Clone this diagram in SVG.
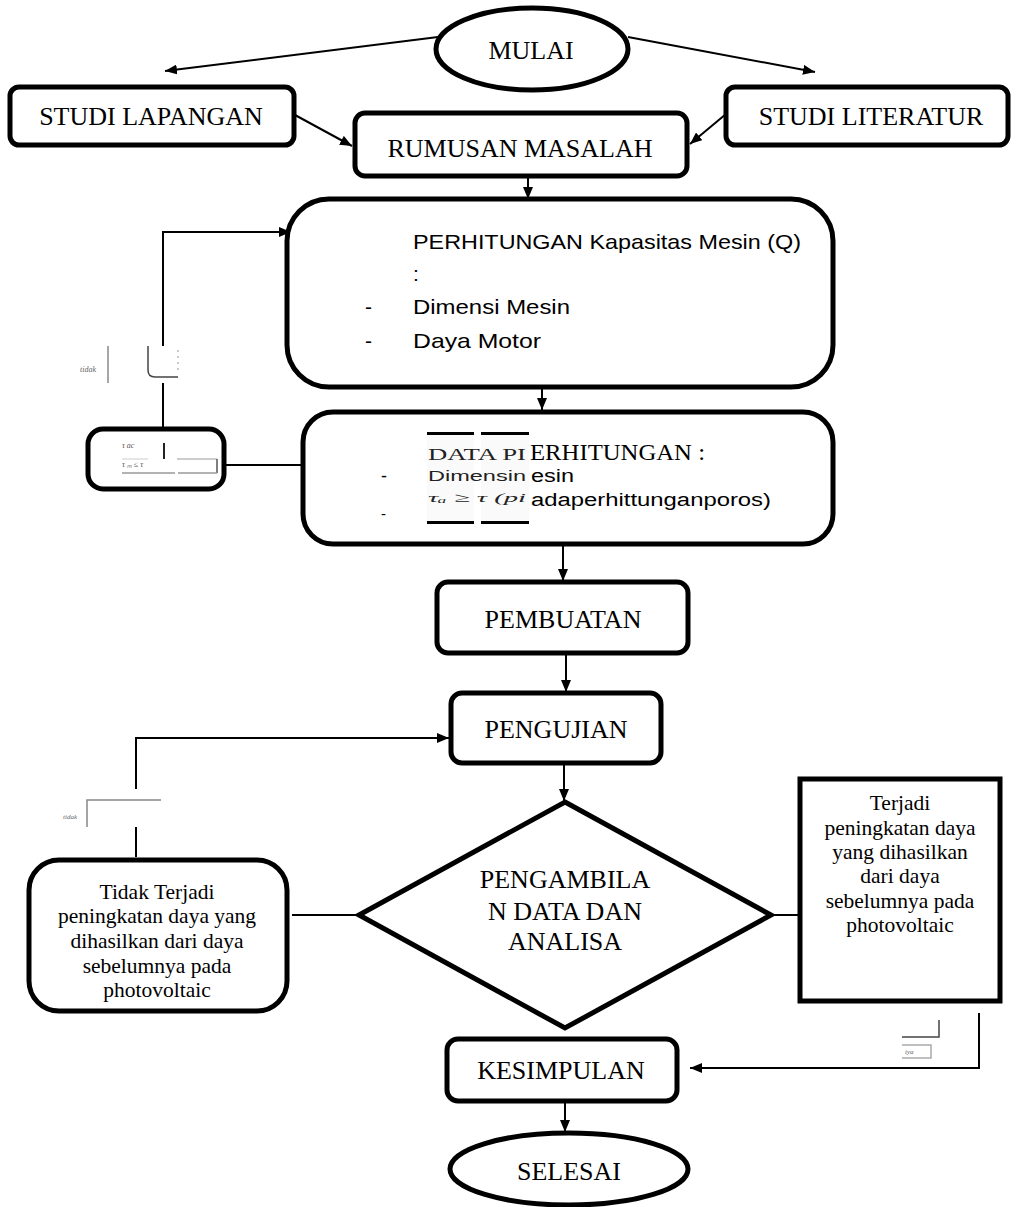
<svg xmlns="http://www.w3.org/2000/svg" width="1016" height="1207" viewBox="0 0 1016 1207">
<style>
  .box{fill:#fff;stroke:#000;stroke-width:5}
  .ln{fill:none;stroke:#000;stroke-width:2}
  .gl{fill:none;stroke:#888;stroke-width:1.5}
  .tt{font-family:"Liberation Serif","Times New Roman",serif;font-size:26px;fill:#000;text-anchor:middle}
  .ts{font-family:"Liberation Serif","Times New Roman",serif;font-size:21.5px;fill:#000;text-anchor:middle}
  .cs{font-family:"Liberation Sans",Arial,sans-serif;font-size:21px;fill:#000}
  .tiny{font-family:"Liberation Serif","Times New Roman",serif;font-size:8px;font-style:italic;fill:#666}
</style>
<defs>
  <marker id="ah" viewBox="0 0 12 10" refX="12" refY="5" markerWidth="12" markerHeight="10" markerUnits="userSpaceOnUse" orient="auto">
    <path d="M0,0 L12,5 L0,10 Z" fill="#000"/>
  </marker>
</defs>
<rect width="1016" height="1207" fill="#fff"/>

<g id="connectors">
  <line class="ln" x1="438" y1="37" x2="165" y2="71" marker-end="url(#ah)"/>
  <line class="ln" x1="628" y1="37" x2="815" y2="72" marker-end="url(#ah)"/>
  <line class="ln" x1="295" y1="115" x2="352" y2="146" marker-end="url(#ah)"/>
  <line class="ln" x1="726" y1="114" x2="690" y2="144" marker-end="url(#ah)"/>
  <line class="ln" x1="528" y1="176" x2="528" y2="199" marker-end="url(#ah)"/>
  <line class="ln" x1="542" y1="387" x2="542" y2="410" marker-end="url(#ah)"/>
  <line class="ln" x1="563" y1="544" x2="563" y2="581" marker-end="url(#ah)"/>
  <line class="ln" x1="566" y1="653" x2="566" y2="692" marker-end="url(#ah)"/>
  <line class="ln" x1="564" y1="763" x2="564" y2="801" marker-end="url(#ah)"/>
  <line class="ln" x1="565" y1="1101" x2="565" y2="1132" marker-end="url(#ah)"/>
  <!-- tidak loop top -->
  <polyline class="ln" points="163,428 163,383"/>
  <polyline class="ln" points="163,346 163,232 291,232" marker-end="url(#ah)"/>
  <line class="ln" x1="225" y1="465" x2="327" y2="465"/>
  <!-- tidak loop bottom -->
  <polyline class="ln" points="136,857 136,827"/>
  <polyline class="ln" points="136,789 136,738 449,738" marker-end="url(#ah)"/>
  <line class="ln" x1="292" y1="915" x2="359" y2="915"/>
  <line class="ln" x1="771" y1="915" x2="798" y2="915"/>
  <path d="M762,910 L771,915 L762,920" fill="none" stroke="#000" stroke-width="1.5"/>
  <!-- iya loop -->
  <polyline class="ln" points="979,1013 979,1068 690,1068" marker-end="url(#ah)"/>
</g>

<g id="n-mulai">
  <ellipse class="box" cx="532" cy="49" rx="96" ry="41"/>
  <text class="tt" x="531" y="59">MULAI</text>
</g>
<g id="n-studi-lapangan">
  <rect class="box" x="10" y="87" width="284" height="58" rx="9"/>
  <text class="tt" x="151" y="125">STUDI LAPANGAN</text>
</g>
<g id="n-studi-literatur">
  <rect class="box" x="726" y="87" width="282" height="58" rx="9"/>
  <text class="tt" x="871" y="125">STUDI LITERATUR</text>
</g>
<g id="n-rumusan">
  <rect class="box" x="355" y="113" width="332" height="63" rx="10"/>
  <text class="tt" x="520" y="157">RUMUSAN MASALAH</text>
</g>
<g id="n-perhitungan">
  <rect class="box" x="287" y="199" width="546" height="188" rx="42"/>
  <text class="cs" x="413" y="249" textLength="388" lengthAdjust="spacingAndGlyphs">PERHITUNGAN Kapasitas Mesin (Q)</text>
  <text class="cs" x="413" y="281">:</text>
  <text class="cs" x="365" y="314">-</text>
  <text class="cs" x="413" y="314" textLength="157" lengthAdjust="spacingAndGlyphs">Dimensi Mesin</text>
  <text class="cs" x="365" y="348">-</text>
  <text class="cs" x="413" y="348" textLength="128" lengthAdjust="spacingAndGlyphs">Daya Motor</text>
</g>
<g id="n-data-perhitungan">
  <rect class="box" x="303" y="412" width="530" height="132" rx="30"/>
  <text class="tt" x="530" y="460" style="text-anchor:start;font-size:24px" textLength="175" lengthAdjust="spacingAndGlyphs">ERHITUNGAN :</text>
  <text class="cs" x="381" y="482" style="font-size:18px">-</text>
  <text class="cs" x="531" y="482" style="font-size:18px" textLength="43" lengthAdjust="spacingAndGlyphs">esin</text>
  <text class="cs" x="381" y="519" style="font-size:15px">-</text>
  <text class="cs" x="531" y="506" style="font-size:18px" textLength="240" lengthAdjust="spacingAndGlyphs">adaperhittunganporos)</text>
  <rect x="427" y="433" width="47" height="91" fill="#fafafa"/>
  <rect x="481" y="433" width="48" height="91" fill="#fafafa"/>
  <rect x="427" y="432" width="47" height="3" fill="#000"/>
  <rect x="481" y="432" width="48" height="3" fill="#000"/>
  <rect x="427" y="521" width="47" height="3" fill="#000"/>
  <rect x="481" y="521" width="48" height="3" fill="#000"/>
  <text x="428" y="460" style="font-family:'Liberation Serif',serif;font-size:17px;fill:#222" textLength="98" lengthAdjust="spacingAndGlyphs">DATA PI</text>
  <text x="428" y="481" style="font-family:'Liberation Sans',sans-serif;font-size:14px;fill:#222" textLength="98" lengthAdjust="spacingAndGlyphs">Dimensin</text>
  <text x="428" y="502" style="font-family:'Liberation Serif',serif;font-size:13px;font-style:italic;fill:#222" textLength="98" lengthAdjust="spacingAndGlyphs">τₐ ≥ τ (pi</text>
</g>
<g id="n-cek">
  <rect class="box" x="88" y="429" width="136" height="60" rx="15"/>
  <text x="122" y="448" style="font-family:'Liberation Serif',serif;font-size:8px;font-style:italic;fill:#555">τ ac</text>
  <line x1="164" y1="443" x2="164" y2="459" stroke="#222" stroke-width="2"/>
  <line x1="122" y1="459" x2="148" y2="459" stroke="#ccc" stroke-width="1"/>
  <line x1="177" y1="459" x2="217" y2="459" stroke="#999" stroke-width="1"/>
  <line x1="217" y1="459" x2="217" y2="473" stroke="#555" stroke-width="1.5"/>
  <text x="122" y="467" style="font-family:'Liberation Serif',serif;font-size:8px;font-style:italic;fill:#555">τ ₘ ≤ τ</text>
  <line x1="122" y1="473" x2="175" y2="473" stroke="#999" stroke-width="1.5"/>
  <line x1="178" y1="473" x2="217" y2="473" stroke="#999" stroke-width="1.5"/>
</g>
<g id="lbl-tidak-1">
  <text class="tiny" x="80" y="372">tidak</text>
  <line class="gl" x1="108" y1="346" x2="108" y2="383"/>
  <path d="M148,346 L148,370 Q148,377 155,377 L178,377" fill="none" stroke="#444" stroke-width="1.5"/>
  <line x1="178" y1="350" x2="178" y2="372" stroke="#999" stroke-width="1" stroke-dasharray="2,4"/>
</g>
<g id="n-pembuatan">
  <rect class="box" x="437" y="582" width="251" height="71" rx="11"/>
  <text class="tt" x="563" y="628">PEMBUATAN</text>
</g>
<g id="n-pengujian">
  <rect class="box" x="451" y="693" width="210" height="70" rx="11"/>
  <text class="tt" x="556" y="738">PENGUJIAN</text>
</g>
<g id="lbl-tidak-2">
  <text class="tiny" x="63" y="819" style="font-size:7px">tidak</text>
  <polyline class="gl" points="87,827 87,800 161,800"/>
</g>
<g id="n-tidak-terjadi">
  <rect class="box" x="29" y="860" width="258" height="151" rx="30"/>
  <text class="ts" x="157" y="899">Tidak Terjadi</text>
  <text class="ts" x="157" y="923">peningkatan daya yang</text>
  <text class="ts" x="157" y="948">dihasilkan dari daya</text>
  <text class="ts" x="157" y="973">sebelumnya pada</text>
  <text class="ts" x="157" y="997">photovoltaic</text>
</g>
<g id="n-pengambilan">
  <polygon class="box" points="565,802 771,915 565,1028 359,915"/>
  <text class="tt" x="565" y="888">PENGAMBILA</text>
  <text class="tt" x="565" y="920">N DATA DAN</text>
  <text class="tt" x="565" y="950">ANALISA</text>
</g>
<g id="n-terjadi">
  <rect class="box" x="800" y="779" width="200" height="222"/>
  <text class="ts" x="900" y="810">Terjadi</text>
  <text class="ts" x="900" y="835">peningkatan daya</text>
  <text class="ts" x="900" y="859">yang dihasilkan</text>
  <text class="ts" x="900" y="883">dari daya</text>
  <text class="ts" x="900" y="908">sebelumnya pada</text>
  <text class="ts" x="900" y="932">photovoltaic</text>
</g>
<g id="lbl-iya">
  <polyline points="902,1037 939,1037 939,1020" fill="none" stroke="#444" stroke-width="1.5"/>
  <polyline class="gl" points="902,1045 931,1045 931,1058 902,1058" style="stroke:#aaa"/>
  <text class="tiny" x="905" y="1054" style="font-size:7px">iya</text>
</g>
<g id="n-kesimpulan">
  <rect class="box" x="447" y="1039" width="230" height="62" rx="11"/>
  <text class="tt" x="561" y="1079">KESIMPULAN</text>
</g>
<g id="n-selesai">
  <ellipse class="box" cx="569" cy="1169" rx="119" ry="36"/>
  <text class="tt" x="569" y="1180">SELESAI</text>
</g>
</svg>
